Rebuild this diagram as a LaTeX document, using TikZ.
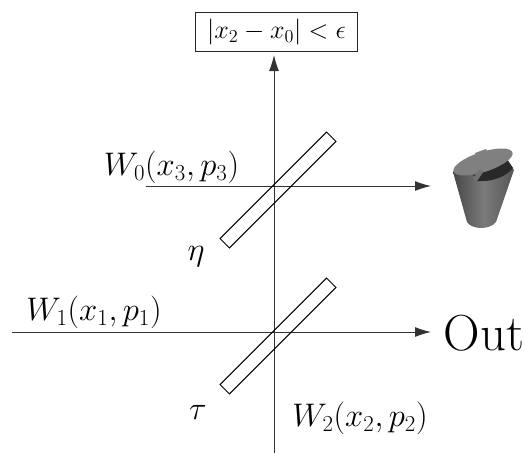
\documentclass[tikz,border=0pt]{standalone}
\usepackage{fix-cm}
\usepackage{amsmath,amssymb}
\usetikzlibrary{arrows.meta,positioning,calc,fit,backgrounds,shapes.geometric}

\begin{document}
\begin{tikzpicture}[x=0.75pt, y=-0.75pt, line width=0.75pt,
  >={Latex[length=12pt,width=7.5pt]},
  beam/.style={draw=black!80, line width=0.75pt},
  split/.style={draw, rotate=45, inner sep=0pt,
                minimum width=113pt, minimum height=10pt},
  test/.style={draw=black!85, fill=white, inner sep=0pt, line width=0.9pt,
               minimum width=122pt, minimum height=29pt,
               font=\fontsize{19.5}{22}\selectfont},
  lbl/.style={font=\fontsize{24.5}{28}\selectfont, inner sep=0pt}]

\useasboundingbox (0,0) rectangle (525,454);

% the free ends of the beams
\coordinate (up0)  at (274,453);
\coordinate (up1)  at (274,55);
\coordinate (in0)  at (146,186);
\coordinate (out0) at (431,186);
\coordinate (in1)  at (12,332);
\coordinate (out1) at (431,332);

\draw[beam, ->] (up0) -- (up1);
\node[test] (cond) at (276.5,32) {$|x_2-x_0|<\epsilon$};

\draw[beam, ->] (in0) -- (out0);
\draw[beam, ->] (in1) -- (out1);

% the beams show through both splitters
\node[split] (etasp) at (278,190) {};
\node[split] (tausp) at (278,336) {};

\node[lbl] (wzero) at (171.5,167) {$W_0(x_3,p_3)$};
\node[lbl] (wone)  at (94,312)    {$W_1(x_1,p_1)$};
\node[lbl] (wtwo)  at (360,418)   {$W_2(x_2,p_2)$};
\node[lbl] (eta)   at (196,257)   {$\eta$};
\node[lbl] (tau)   at (198,412)   {$\tau$};
\node[font=\fontsize{38}{42}\selectfont, inner sep=0pt] (out) at (484,333) {Out};

% bin, drawn by hand
\path[left color=black!72, right color=black!66, middle color=black!52]
  (453,172) -- (467,222) .. controls (472,230) and (490,230) .. (496,222)
  -- (514,170) .. controls (500,150) and (465,150) .. (453,172) -- cycle;
\fill[black!84] (470,170) -- (505,156) -- (513,168)
  .. controls (505,178) and (490,182) .. (477,181) -- cycle;
\fill[black!50] (475,153) -- (486,149) -- (488,153) -- (477,157) -- cycle;
\fill[black!50, rotate around={18:(483,162)}] (483,162) ellipse (31 and 10);
\fill[black!55] (473,178) -- (479,170) -- (484,171) -- (477,181) -- cycle;
\end{tikzpicture}
\end{document}
